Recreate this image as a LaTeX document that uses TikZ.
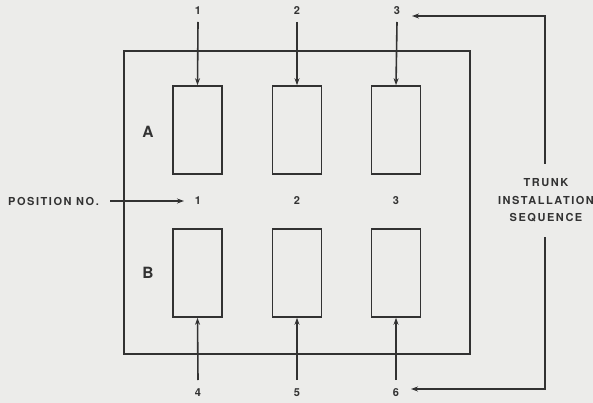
\documentclass[tikz,border=0pt]{standalone}
\usepackage{fontspec}
\setmainfont{TeX Gyre Heros}[LetterSpace=14]
\usetikzlibrary{arrows.meta}
\definecolor{paper}{RGB}{236,236,234}
\definecolor{ink}{RGB}{50,50,50}
\tikzset{
  lbl/.style={font=\bfseries\fontsize{11}{13}\selectfont, text=ink, inner sep=1pt},
  big/.style={font=\bfseries\fontsize{15.5}{17}\selectfont, text=ink, inner sep=1pt},
  unit/.style={draw=ink, line width=1.6pt, minimum width=49pt, minimum height=88pt, inner sep=0pt},
  frame/.style={draw=ink, line width=1.6pt},
  arr/.style={draw=ink, line width=1.6pt, -{Stealth[length=7pt,width=5pt]}},
}
\begin{document}
\begin{tikzpicture}[x=1pt,y=-1pt]
\fill[paper] (0,0) rectangle (593,403);
\useasboundingbox (0,0) rectangle (593,403);
% frame
\draw[frame] (124,51) rectangle (470,354);
% units
\node[unit] (a1) at (197.5,130) {};
\node[unit] (a2) at (297,130) {};
\node[unit] (a3) at (396,130) {};
\node[unit] (b1) at (197.5,273) {};
\node[unit] (b2) at (297,273) {};
\node[unit] (b3) at (396,273) {};
% row labels
\node[big] (la) at (148,132) {A};
\node[big] (lb) at (148,273) {B};
% top sequence labels
\node[lbl] (t1) at (198,11) {1};
\node[lbl] (t2) at (297,11) {2};
\node[lbl] (t3) at (397,11) {3};
% bottom sequence labels
\node[lbl] (s4) at (198,393) {4};
\node[lbl] (s5) at (297,393) {5};
\node[lbl] (s6) at (396,393) {6};
% position numbers
\node[lbl] (p1) at (198,201) {1};
\node[lbl] (p2) at (297,201) {2};
\node[lbl] (p3) at (396,201) {3};
\node[lbl, anchor=west] (pos) at (7,201) {POSITION NO.};
% trunk text
\node[lbl, align=center, font=\bfseries\fontsize{11}{17.5}\selectfont] (trunk) at (546,200.5) {TRUNK\\INSTALLATION\\SEQUENCE};
% arrows
\draw[arr] (198,22) -- (a1.north);
\draw[arr] (297,22) -- (a2.north);
\draw[arr] (397,22) -- (a3.north);
\draw[arr] (198,380) -- (b1.south);
\draw[arr] (297,380) -- (b2.south);
\draw[arr] (396,380) -- (b3.south);
\draw[arr] (110,201) -- (184,201);
\coordinate (tu) at (545,164);
\coordinate (td) at (545,237);
\draw[arr] (tu) |- (412,16);
\draw[arr] (td) |- (411,389);
\end{tikzpicture}
\end{document}
